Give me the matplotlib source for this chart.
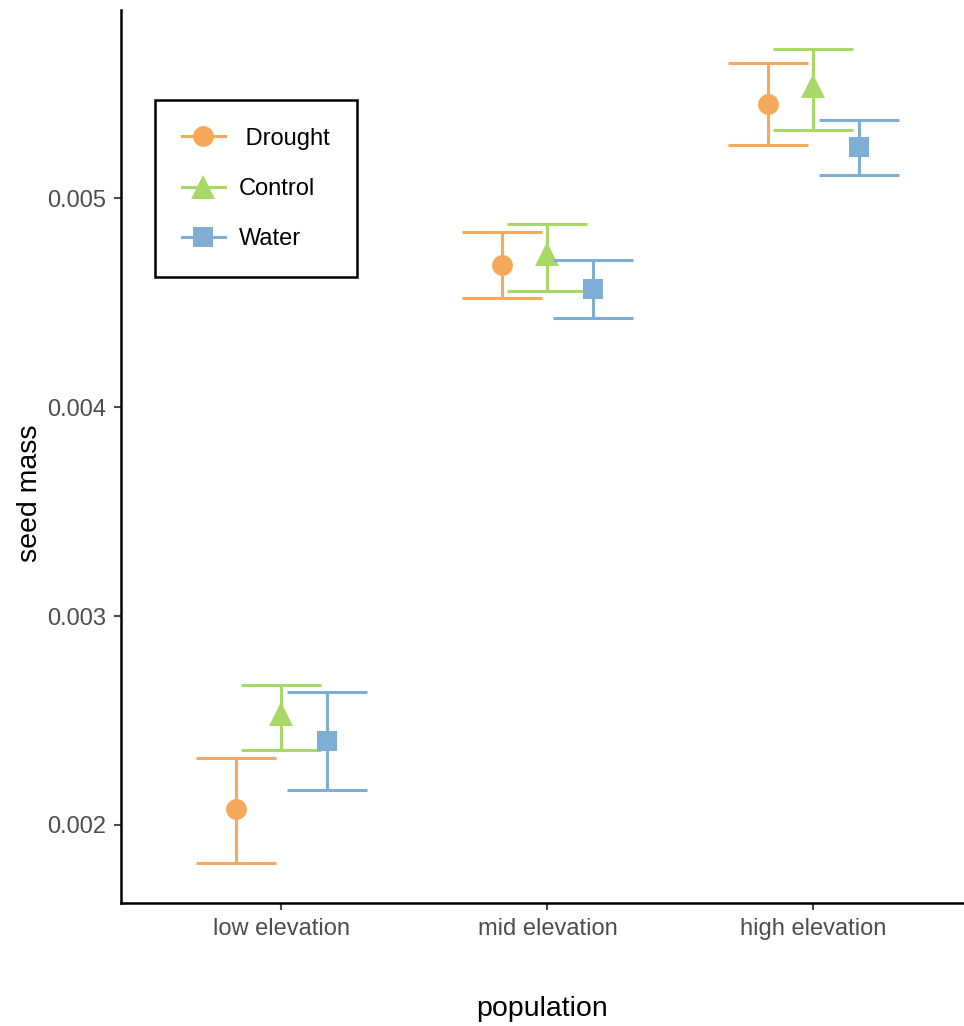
import numpy as np
from matplotlib import pyplot as plt
from matplotlib.lines import Line2D

populations = ['low elevation', 'mid elevation', 'high elevation']
treatments = ['Drought', 'Control', 'Water']

# mean seed mass per population, one list per treatment
drought_mean = [0.002077, 0.004680, 0.005450]
control_mean = [0.002531, 0.004732, 0.005536]
water_mean = [0.002402, 0.004565, 0.005244]

# error bar limits
drought_lo = [0.001820, 0.004522, 0.005254]
drought_hi = [0.002320, 0.004837, 0.005646]
control_lo = [0.002360, 0.004555, 0.005325]
control_hi = [0.002670, 0.004876, 0.005713]
water_lo = [0.002167, 0.004426, 0.005110]
water_hi = [0.002636, 0.004703, 0.005373]

colors = ['#F7A95B', '#A8D966', '#7EAED4']
markers = ['o', '^', 's']
msizes = [15, 17, 14]
offsets = [-0.17, 0.0, 0.17]

means = [drought_mean, control_mean, water_mean]
lows = [drought_lo, control_lo, water_lo]
highs = [drought_hi, control_hi, water_hi]

plt.rcParams['font.family'] = ['Liberation Sans', 'DejaVu Sans']

fig = plt.figure(figsize=(9.64, 10.26), dpi=100)
ax = fig.add_axes([0.1255, 0.12, 0.8745, 0.87])

x = np.arange(1, len(populations) + 1)
handles = []
for i, name in enumerate(treatments):
    m = np.array(means[i])
    lo = np.array(lows[i])
    hi = np.array(highs[i])
    ax.errorbar(x + offsets[i], m, yerr=[m - lo, hi - m], fmt='none',
                ecolor=colors[i], elinewidth=2.2, capsize=28.5, capthick=2.2,
                zorder=2 + i)
    ax.plot(x + offsets[i], m, linestyle='none', marker=markers[i],
            markersize=msizes[i], color=colors[i], markeredgewidth=0,
            zorder=2.5 + i)
    handles.append(Line2D([0], [0], color=colors[i], lw=2.2,
                          marker=markers[i], markersize=msizes[i],
                          markeredgewidth=0))

ax.set_xlim(0.397, 3.566)
ax.set_ylim(0.001627, 0.0059)
ax.set_xticks(x)
ax.set_xticklabels(populations)
ax.set_yticks([0.002, 0.003, 0.004, 0.005])
ax.set_yticklabels(['0.002', '0.003', '0.004', '0.005'])

for side in ['top', 'right']:
    ax.spines[side].set_visible(False)
for side in ['left', 'bottom']:
    ax.spines[side].set_linewidth(1.8)
    ax.spines[side].set_color('black')

ax.tick_params(axis='both', labelsize=17, colors='#4D4D4D', length=5,
               width=1.5, pad=6)
ax.set_xlabel('population', fontsize=20.5, labelpad=40)
ax.set_ylabel('seed mass', fontsize=20.5)
ax.yaxis.set_label_coords(-0.092, 0.459)

leg = ax.legend(handles, [' Drought', 'Control', 'Water'],
                loc='upper left', bbox_to_anchor=(0.0403, 0.899),
                borderaxespad=0, fontsize=17, handlelength=1.8,
                labelspacing=1.2, borderpad=1.15, handletextpad=0.6,
                fancybox=False, framealpha=1)
leg.get_frame().set_edgecolor('black')
leg.get_frame().set_linewidth(1.8)

fig.savefig('out.png', dpi=100)
